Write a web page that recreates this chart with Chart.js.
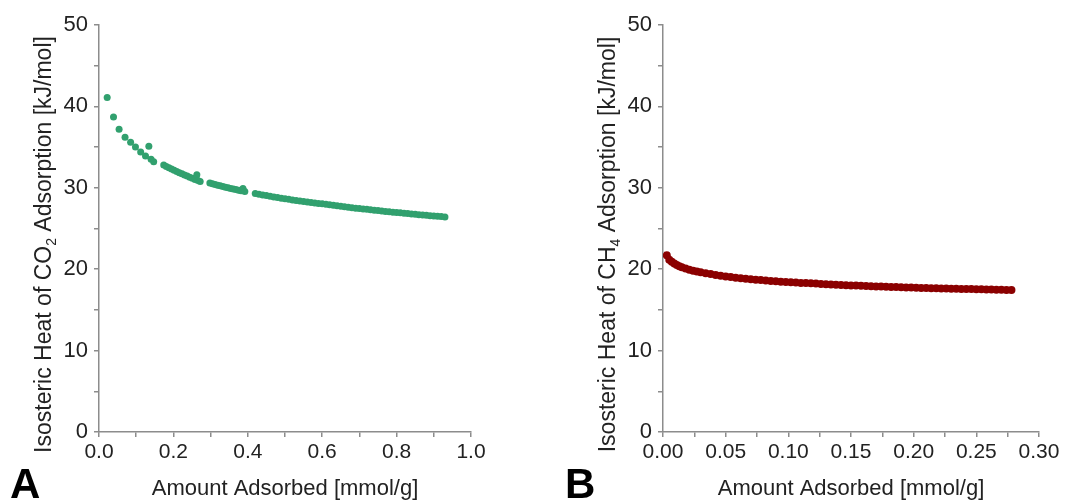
<!DOCTYPE html>
<html>
<head>
<meta charset="utf-8">
<script src="https://cdn.jsdelivr.net/npm/chart.js@4.4.0/dist/chart.umd.min.js"></script>
<style>
  html, body { margin: 0; padding: 0; background: #fff; }
  #wrap { position: relative; width: 1076px; height: 502px; }
  .panel { position: absolute; top: 0; width: 538px; height: 502px; }
</style>
</head>
<body>
<div id="wrap">
  <div class="panel" style="left:0"><canvas id="co2-chart" width="538" height="502"></canvas></div>
  <div class="panel" style="left:538px"><canvas id="ch4-chart" width="538" height="502"></canvas></div>
</div>
<script>
// CO2 isosteric heat vs. amount adsorbed (panel A)
const co2Amount = [
  0.022, 0.039, 0.054, 0.070, 0.085, 0.098, 0.112, 0.125, 0.134, 0.140, 0.147,
  0.174, 0.181, 0.188, 0.195, 0.202, 0.209, 0.216, 0.223, 0.230, 0.237, 0.244, 0.251, 0.258, 0.263, 0.266, 0.272,
  0.298, 0.305, 0.312, 0.319, 0.326, 0.333, 0.340, 0.347, 0.354, 0.361, 0.368, 0.375, 0.382, 0.387, 0.392,
  0.42, 0.43, 0.44, 0.45, 0.46, 0.47, 0.48, 0.49, 0.50,
  0.51, 0.52, 0.53, 0.54, 0.55, 0.56, 0.57, 0.58, 0.59, 0.60,
  0.61, 0.62, 0.63, 0.64, 0.65, 0.66, 0.67, 0.68, 0.69, 0.70,
  0.71, 0.72, 0.73, 0.74, 0.75, 0.76, 0.77, 0.78, 0.79, 0.80,
  0.81, 0.82, 0.83, 0.84, 0.85, 0.86, 0.87, 0.88, 0.89, 0.90,
  0.91, 0.92, 0.93
];
const co2Heat = [
  41.1, 38.7, 37.2, 36.2, 35.6, 35.0, 34.4, 33.9, 35.1, 33.5, 33.2,
  32.8, 32.62, 32.46, 32.3, 32.15, 32.0, 31.86, 31.72, 31.58, 31.44, 31.3, 31.16, 31.02, 31.6, 30.9, 30.78,
  30.6, 30.5, 30.41, 30.32, 30.24, 30.16, 30.08, 30.0, 29.92, 29.85, 29.78, 29.71, 29.64, 29.9, 29.56,
  29.31, 29.22, 29.13, 29.05, 28.96, 28.88, 28.80, 28.72, 28.65,
  28.58, 28.51, 28.45, 28.38, 28.32, 28.26, 28.20, 28.14, 28.08, 28.03,
  27.97, 27.91, 27.85, 27.79, 27.73, 27.67, 27.62, 27.56, 27.50, 27.45,
  27.40, 27.35, 27.30, 27.25, 27.20, 27.15, 27.10, 27.05, 27.00, 26.96,
  26.92, 26.87, 26.83, 26.79, 26.74, 26.70, 26.66, 26.62, 26.58, 26.54,
  26.50, 26.46, 26.42
];

// CH4 isosteric heat vs. amount adsorbed (panel B)
const ch4Amount = [
  0.003, 0.005, 0.007, 0.009, 0.011, 0.013, 0.015, 0.018, 0.021, 0.024, 0.027, 0.030,
  0.034, 0.038, 0.042, 0.046, 0.050, 0.054, 0.058, 0.062, 0.066, 0.070, 0.074, 0.078,
  0.082, 0.086, 0.090, 0.094, 0.098, 0.102, 0.106, 0.110, 0.114, 0.118, 0.122, 0.126,
  0.130, 0.134, 0.138, 0.142, 0.146, 0.150, 0.154, 0.158, 0.162, 0.166, 0.170, 0.174,
  0.178, 0.182, 0.186, 0.190, 0.194, 0.198, 0.202, 0.206, 0.210, 0.214, 0.218, 0.222,
  0.226, 0.230, 0.234, 0.238, 0.242, 0.246, 0.250, 0.254, 0.258, 0.262, 0.266, 0.270,
  0.274, 0.278
];
const ch4Heat = [
  21.7, 21.15, 20.9, 20.7, 20.52, 20.37, 20.24, 20.08, 19.94, 19.82, 19.71, 19.61,
  19.50, 19.40, 19.28, 19.19, 19.10, 19.03, 18.96, 18.89, 18.83, 18.77, 18.71, 18.66,
  18.61, 18.56, 18.51, 18.47, 18.43, 18.39, 18.36, 18.32, 18.29, 18.26, 18.23, 18.19,
  18.16, 18.13, 18.10, 18.07, 18.04, 18.01, 17.99, 17.96, 17.94, 17.91, 17.89, 17.86,
  17.84, 17.82, 17.80, 17.78, 17.76, 17.74, 17.72, 17.70, 17.69, 17.67, 17.66, 17.64,
  17.62, 17.61, 17.60, 17.58, 17.57, 17.56, 17.54, 17.53, 17.52, 17.50, 17.49, 17.48,
  17.46, 17.45
];

// labelled ticks (minor ticks in between stay blank)
const heatTicks = ['0', '10', '20', '30', '40', '50'];
const co2AmountTicks = ['0.0', '0.2', '0.4', '0.6', '0.8', '1.0'];
const ch4AmountTicks = ['0.00', '0.05', '0.10', '0.15', '0.20', '0.25', '0.30'];

const FONT = '"Liberation Sans", Arial, Helvetica, sans-serif';
const AXIS_GREY = '#8c8c8c';
const TEXT = '#222';

// panel letter + rotated y title with a real subscript
const panelText = {
  id: 'panelText',
  afterDraw(chart, args, opts) {
    const ctx = chart.ctx;
    const area = chart.chartArea;
    ctx.save();
    ctx.fillStyle = '#000';
    ctx.font = 'bold 42px ' + FONT;
    ctx.textAlign = 'left';
    ctx.textBaseline = 'alphabetic';
    ctx.fillText(opts.letter, opts.letterX, 498);

    const big = '23px ' + FONT;
    const small = '14px ' + FONT;
    let total = 0;
    const parts = opts.yTitle.map(p => {
      ctx.font = p.sub ? small : big;
      const w = ctx.measureText(p.text).width;
      total += w;
      return { text: p.text, sub: p.sub, w: w };
    });
    ctx.translate(area.left - 56, (area.top + area.bottom) / 2 + 16);
    ctx.rotate(-Math.PI / 2);
    ctx.fillStyle = TEXT;
    let u = -total / 2;
    parts.forEach(p => {
      ctx.font = p.sub ? small : big;
      ctx.fillText(p.text, u, p.sub ? 13 : 8);
      u += p.w;
    });
    ctx.restore();
  }
};

function makeChart(id, xs, ys, color, radius, opts) {
  const ctx = document.getElementById(id).getContext('2d');
  return new Chart(ctx, {
    type: 'scatter',
    data: {
      datasets: [{
        data: xs.map((x, i) => ({ x: x, y: ys[i] })),
        backgroundColor: color,
        borderWidth: 0,
        pointRadius: radius,
        pointHoverRadius: radius
      }]
    },
    options: {
      responsive: false,
      animation: false,
      events: [],
      layout: { padding: { left: 0, right: opts.padRight, top: 25, bottom: 0 } },
      plugins: {
        legend: { display: false },
        tooltip: { enabled: false },
        panelText: { letter: opts.letter, letterX: opts.letterX, yTitle: opts.yTitle }
      },
      scales: {
        x: {
          type: 'linear',
          min: 0,
          max: opts.xMax,
          afterFit: s => { s.height = 70; },
          border: { display: true, color: AXIS_GREY, width: 1.5 },
          grid: { drawOnChartArea: false, drawTicks: true, tickLength: 5, color: AXIS_GREY, lineWidth: 1.5 },
          ticks: {
            stepSize: opts.xStep,
            autoSkip: false,
            maxRotation: 0,
            padding: 3,
            color: TEXT,
            font: { family: FONT, size: 21 },
            callback: v => {
              const s = v.toFixed(opts.xDigits);
              return opts.xLabels.includes(s) ? s : '';
            }
          },
          title: {
            display: true,
            text: 'Amount Adsorbed [mmol/g]',
            color: TEXT,
            font: { family: FONT, size: 22 },
            padding: { top: 0, bottom: 0 }
          }
        },
        y: {
          type: 'linear',
          min: 0,
          max: 50,
          afterFit: s => { s.width = opts.yWidth; },
          border: { display: true, color: AXIS_GREY, width: 1.5 },
          grid: { drawOnChartArea: false, drawTicks: true, tickLength: 5, color: AXIS_GREY, lineWidth: 1.5 },
          ticks: {
            stepSize: 5,
            autoSkip: false,
            padding: 6,
            color: TEXT,
            font: { family: FONT, size: 22 },
            callback: v => {
              const s = String(Math.round(v));
              return heatTicks.includes(s) && v % 10 === 0 ? s : '';
            }
          }
        }
      }
    },
    plugins: [panelText]
  });
}

makeChart('co2-chart', co2Amount, co2Heat, '#31a06e', 3.5, {
  letter: 'A', letterX: 10, padRight: 67, yWidth: 99,
  xMax: 1.0, xStep: 0.1, xDigits: 1, xLabels: co2AmountTicks,
  yTitle: [
    { text: 'Isosteric Heat of CO' },
    { text: '2', sub: true },
    { text: ' Adsorption [kJ/mol]' }
  ]
});

makeChart('ch4-chart', ch4Amount, ch4Heat, '#8b0000', 4, {
  letter: 'B', letterX: 27, padRight: 37, yWidth: 125,
  xMax: 0.30, xStep: 0.025, xDigits: 2, xLabels: ch4AmountTicks,
  yTitle: [
    { text: 'Isosteric Heat of CH' },
    { text: '4', sub: true },
    { text: ' Adsorption [kJ/mol]' }
  ]
});
</script>
</body>
</html>
